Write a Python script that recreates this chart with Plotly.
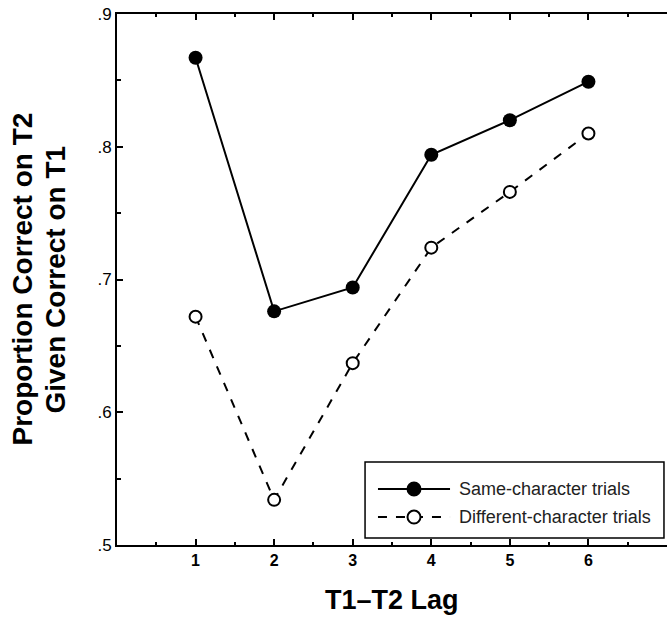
import plotly.graph_objects as go

lags = [1, 2, 3, 4, 5, 6]
same_char = [0.867, 0.676, 0.694, 0.794, 0.820, 0.849]
diff_char = [0.672, 0.534, 0.637, 0.724, 0.766, 0.810]
series_names = ["Same-character trials", "Different-character trials"]
y_tickvals = [0.5, 0.6, 0.7, 0.8, 0.9]
y_ticktext = [".5", ".6", ".7", ".8", ".9"]
x_tickvals = [1, 2, 3, 4, 5, 6]
x_ticktext = ["<b>1</b>", "<b>2</b>", "<b>3</b>", "<b>4</b>", "<b>5</b>", "<b>6</b>"]
y_title_lines = ["Proportion Correct on T2", "Given Correct on T1"]
x_title = "T1\u2013T2 Lag"

FONT = "Liberation Sans, Arial, Helvetica, sans-serif"

fig = go.Figure()
fig.add_trace(go.Scatter(
    x=lags, y=same_char, mode="lines+markers", name=series_names[0],
    line=dict(color="black", width=2),
    marker=dict(symbol="circle", size=14, color="black"),
))
fig.add_trace(go.Scatter(
    x=lags, y=diff_char, mode="lines+markers", name=series_names[1],
    line=dict(color="black", width=2, dash="dash"),
    marker=dict(symbol="circle", size=12, color="white", line=dict(color="black", width=2)),
))

# custom legend box (paper coordinates of the plot area)
shapes = [
    dict(type="rect", xref="paper", yref="paper", x0=0.451, x1=0.9945, y0=0.0132, y1=0.1563,
         line=dict(color="black", width=1.5), fillcolor="white", layer="above"),
]
rows = [(0.1055, "solid", "black", series_names[0]), (0.0527, "dash", "white", series_names[1])]
annotations = []
rx, ry = 6.5 / 550, 6.5 / 531
for y, dash, fill, name in rows:
    shapes.append(dict(type="line", xref="paper", yref="paper", x0=0.4745, x1=0.6055, y0=y, y1=y,
                       line=dict(color="black", width=1.8, dash=dash), layer="above"))
    shapes.append(dict(type="circle", xref="paper", yref="paper", x0=0.54 - rx, x1=0.54 + rx,
                       y0=y - ry, y1=y + ry, line=dict(color="black", width=2),
                       fillcolor=fill, layer="above"))
    annotations.append(dict(xref="paper", yref="paper", x=0.618, y=y, text=name, showarrow=False,
                            xanchor="left", yanchor="middle",
                            font=dict(family=FONT, size=18, color="#222")))

# axis titles
for xpos, line in zip([-0.1727, -0.1127], y_title_lines):
    annotations.append(dict(xref="paper", yref="paper", x=xpos, y=0.5, text="<b>%s</b>" % line,
                            textangle=-90, showarrow=False, xanchor="center", yanchor="middle",
                            font=dict(family=FONT, size=28, color="black")))
annotations.append(dict(xref="paper", yref="paper", x=0.5, y=-0.1036, text="<b>%s</b>" % x_title,
                        showarrow=False, xanchor="center", yanchor="middle",
                        font=dict(family=FONT, size=27, color="black")))

fig.update_layout(
    width=667, height=617,
    margin=dict(l=117, r=0, t=14, b=72),
    paper_bgcolor="white", plot_bgcolor="white",
    font=dict(family=FONT, color="black", size=14),
    showlegend=False,
    shapes=shapes,
    annotations=annotations,
    xaxis=dict(
        range=[0, 7], showgrid=False, zeroline=False,
        showline=True, linecolor="black", linewidth=2, mirror="ticks",
        tickmode="array", tickvals=x_tickvals, ticktext=x_ticktext,
        ticks="inside", ticklen=6, tickwidth=1.5, tickcolor="black",
        minor=dict(dtick=0.5, tick0=0.5, ticks="inside", ticklen=3, tickwidth=1.5, tickcolor="black"),
        tickfont=dict(family=FONT, size=16),
    ),
    yaxis=dict(
        range=[0.5, 0.9], showgrid=False, zeroline=False,
        showline=True, linecolor="black", linewidth=2, mirror=False,
        tickmode="array", tickvals=y_tickvals, ticktext=y_ticktext,
        ticks="inside", ticklen=6, tickwidth=1.5, tickcolor="black",
        minor=dict(dtick=0.05, tick0=0.5, ticks="inside", ticklen=4, tickwidth=1.5, tickcolor="black"),
        tickfont=dict(family=FONT, size=17),
    ),
)

fig.write_html("out.html", config={"displayModeBar": False},
               post_script="document.body.style.margin='0';")
